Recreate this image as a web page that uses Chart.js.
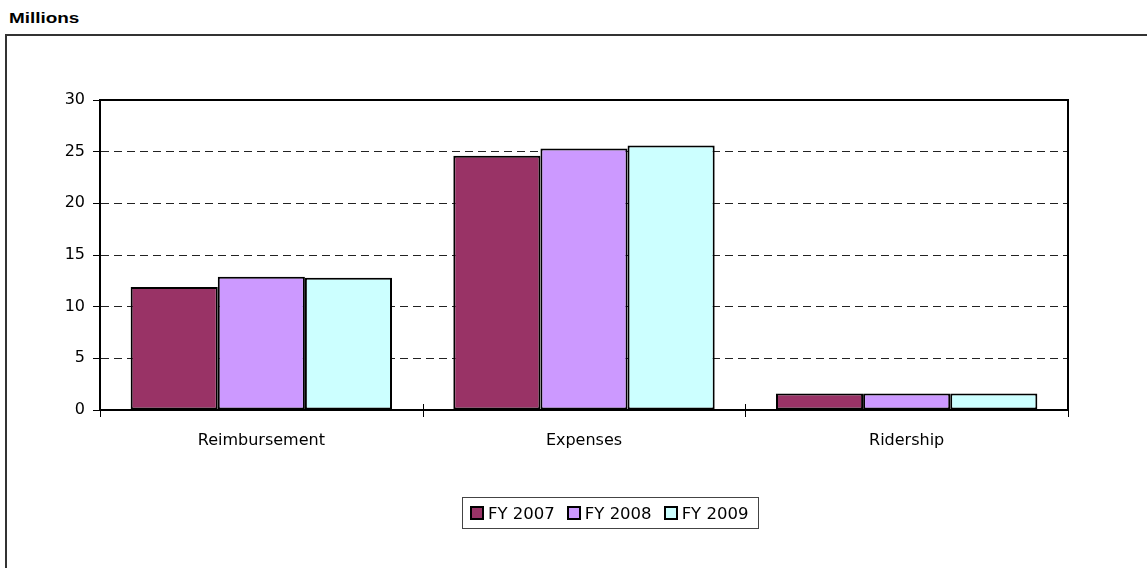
<!DOCTYPE html>
<html>
<head>
<meta charset="utf-8">
<script src="https://cdn.jsdelivr.net/npm/chart.js@4/dist/chart.umd.min.js"></script>
<style>
    body { margin: 0; background: #fff; }
    #quadro { position: relative; width: 1147px; height: 568px; overflow: hidden; }
    #titulo {
        position: absolute; left: 9px; top: 9px;
        font: bold 15.5px "Liberation Sans", Arial, sans-serif;
        transform: scaleX(1.22); transform-origin: left top;
    }
    #moldura {
        position: absolute; left: 5px; top: 34px; width: 1160px; height: 560px;
        border-left: 2px solid #333; border-top: 2px solid #333;
    }
    #grafico { position: absolute; left: 0; top: 0; }
    #legenda {
        position: absolute; left: 462px; top: 497px; height: 30px;
        border: 1px solid #444; padding: 0 10px 0 7px;
        display: flex; align-items: center;
        font: 16.5px "DejaVu Sans", sans-serif; color: #000;
    }
    .item { display: flex; align-items: center; margin-right: 12px; }
    .item:last-child { margin-right: 0; }
    .caixa { width: 10px; height: 10px; border: 2px solid #000; margin-right: 4px; }
</style>
</head>
<body>
<div id="quadro">
    <div id="titulo">Millions</div>
    <div id="moldura"></div>
    <canvas id="grafico" width="1147" height="568"></canvas>
    <div id="legenda"></div>
</div>
<script>
// Dados do gráfico
const categorias = ['Reimbursement', 'Expenses', 'Ridership'];
const series = ['FY 2007', 'FY 2008', 'FY 2009'];
const fy2007 = [11.9, 24.6, 1.6];
const fy2008 = [12.9, 25.3, 1.6];
const fy2009 = [12.8, 25.6, 1.6];
const ticksY = [0, 5, 10, 15, 20, 25, 30];
const cores = ['#993366', '#CC99FF', '#CCFFFF'];

const fonte = { family: '"DejaVu Sans", sans-serif', size: 16 };

// Moldura da área de plotagem e marcas cruzadas no eixo X
const molduraPlot = {
    id: 'molduraPlot',
    afterDraw(chart) {
        const { ctx, chartArea: a, scales: { x } } = chart;
        ctx.save();
        ctx.strokeStyle = '#000';
        ctx.lineWidth = 2;
        ctx.beginPath();
        ctx.moveTo(a.left, a.top);
        ctx.lineTo(a.right, a.top);
        ctx.lineTo(a.right, a.bottom);
        ctx.stroke();

        ctx.lineWidth = 1;
        const passo = x.getPixelForValue(1) - x.getPixelForValue(0);
        for (let i = 0; i <= categorias.length; i++) {
            const px = Math.round(x.getPixelForValue(i) - passo / 2) + 0.5;
            ctx.beginPath();
            ctx.moveTo(px, a.bottom - 6);
            ctx.lineTo(px, a.bottom + 7);
            ctx.stroke();
        }
        ctx.restore();
    }
};

const dadosSeries = [fy2007, fy2008, fy2009];

const grafico = new Chart(document.getElementById('grafico'), {
    type: 'bar',
    data: {
        labels: categorias,
        datasets: series.map((nome, i) => ({
            label: nome,
            data: dadosSeries[i],
            backgroundColor: cores[i],
            borderColor: '#000',
            borderWidth: 2,
            borderSkipped: false,
            barPercentage: 1,
            categoryPercentage: 0.81
        }))
    },
    options: {
        responsive: false,
        animation: false,
        layout: { padding: { top: 100, right: 79, left: 0, bottom: 0 } },
        plugins: {
            legend: { display: false },
            tooltip: { enabled: false }
        },
        scales: {
            x: {
                offset: true,
                grid: { display: false, drawTicks: false },
                border: { color: '#000', width: 2 },
                ticks: { font: fonte, color: '#000', padding: 21 },
                afterFit(scale) { scale.height = 158; }
            },
            y: {
                min: 0,
                max: 30,
                afterBuildTicks(scale) { scale.ticks = ticksY.map(v => ({ value: v })); },
                grid: { color: '#222', lineWidth: 1, tickLength: 7, tickColor: '#000' },
                border: { color: '#000', width: 2, dash: [8, 5] },
                ticks: { font: fonte, color: '#000', padding: 8 },
                afterFit(scale) { scale.width = 100; }
            }
        }
    },
    plugins: [molduraPlot]
});

// Legenda em HTML com caixa
const legenda = document.getElementById('legenda');
series.forEach((nome, i) => {
    const item = document.createElement('div');
    item.className = 'item';
    item.innerHTML = `<span class="caixa" style="background:${cores[i]}"></span>${nome}`;
    legenda.appendChild(item);
});
</script>
</body>
</html>
